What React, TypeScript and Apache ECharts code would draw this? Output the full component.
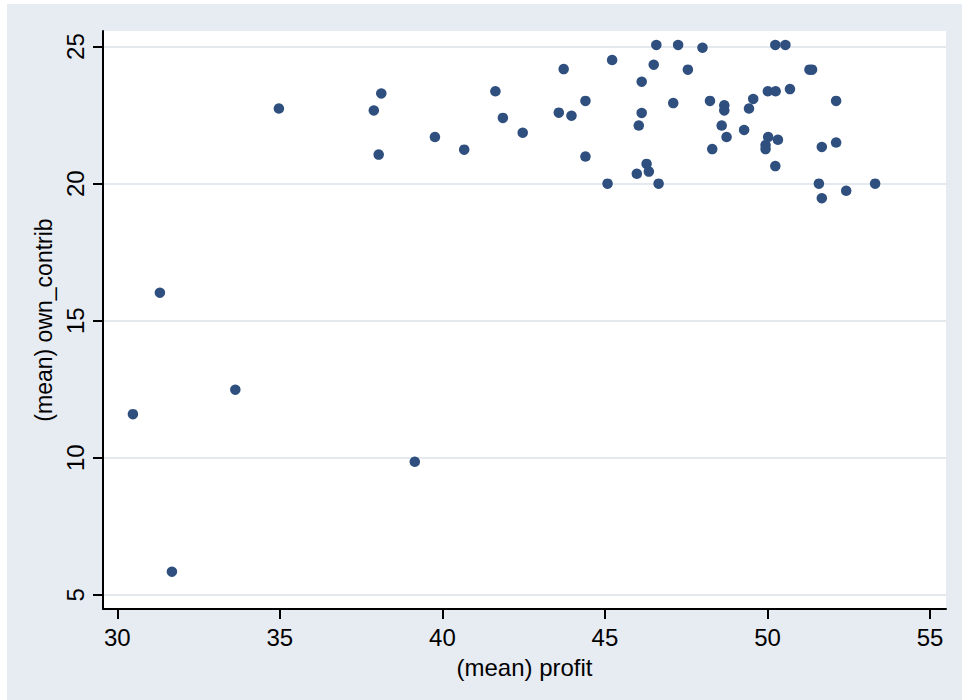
import React, { useEffect, useRef } from "react";
import * as echarts from "echarts";

const profit: number[] = [
  34.97, 38.12, 37.89, 38.04, 31.31, 30.48, 33.63, 31.68, 39.15,
  39.77, 40.67, 41.63, 41.86, 42.47, 43.58, 43.73,
  43.97, 44.40, 44.40, 45.22, 45.08, 46.58, 47.25, 48.0, 46.50, 47.55, 46.13, 47.10,
  46.13, 46.04, 48.23, 48.67, 48.67, 48.59, 48.74, 48.30, 46.28, 46.35, 45.98, 46.65,
  49.28, 49.43, 49.56, 50.01, 50.25, 50.69, 50.24, 50.55, 51.29, 51.37, 52.11,
  50.02, 50.32, 49.94, 49.94, 50.24, 51.67, 52.11, 51.58, 51.67, 52.42, 53.31,
];

const ownContrib: number[] = [
  22.74, 23.29, 22.67, 21.06, 16.02, 11.59, 12.48, 5.84, 9.85,
  21.70, 21.24, 23.37, 22.40, 21.86, 22.59, 24.18,
  22.48, 23.02, 20.99, 24.51, 20.0, 25.06, 25.06, 24.96, 24.34, 24.16, 23.72, 22.94,
  22.58, 22.12, 23.02, 22.86, 22.67, 22.12, 21.70, 21.26, 20.72, 20.44, 20.36, 20.0,
  21.96, 22.74, 23.09, 23.37, 23.37, 23.45, 25.06, 25.06, 24.16, 24.16, 23.02,
  21.70, 21.60, 21.41, 21.26, 20.64, 21.34, 21.50, 20.0, 19.47, 19.74, 20.0,
];

const xTicks: number[] = [30, 35, 40, 45, 50, 55];
const yTicks: number[] = [5, 10, 15, 20, 25];

const FONT = "'Liberation Sans', Arial, sans-serif";

export default function App() {
  const ref = useRef<HTMLDivElement>(null);

  useEffect(() => {
    if (!ref.current) return;
    const chart = echarts.init(ref.current, undefined, { renderer: "svg" });
    const points = profit.map((p, i) => [p, ownContrib[i]]);
    chart.setOption({
      animation: false,
      backgroundColor: "#e7ebf2",
      grid: {
        left: 96,
        top: 27,
        right: 16,
        bottom: 91,
        show: true,
        backgroundColor: "#ffffff",
        borderWidth: 0,
      },
      xAxis: {
        type: "value",
        min: 29.56,
        max: 55.49,
        name: "(mean) profit",
        nameLocation: "middle",
        nameGap: 46,
        nameTextStyle: { fontSize: 24, color: "#000", fontFamily: FONT },
        axisLine: { show: true, lineStyle: { color: "#000", width: 2 } },
        axisTick: {
          show: true,
          length: 10,
          lineStyle: { color: "#000", width: 2 },
          customValues: xTicks,
        },
        axisLabel: {
          fontSize: 24,
          color: "#000",
          fontFamily: FONT,
          margin: 16,
          customValues: xTicks,
        },
        splitLine: { show: false },
      },
      yAxis: {
        type: "value",
        min: 4.48,
        max: 25.57,
        name: "(mean) own_contrib",
        nameLocation: "middle",
        nameGap: 44,
        nameTextStyle: { fontSize: 23, color: "#000", fontFamily: FONT },
        axisLine: { show: true, lineStyle: { color: "#000", width: 2 } },
        axisTick: {
          show: true,
          length: 10,
          lineStyle: { color: "#000", width: 2 },
          customValues: yTicks,
        },
        axisLabel: {
          fontSize: 24,
          color: "#000",
          fontFamily: FONT,
          margin: 16,
          rotate: 90,
          customValues: yTicks,
        },
        splitLine: { show: true, lineStyle: { color: "#e4e8ef", width: 2 } },
      },
      series: [
        {
          type: "scatter",
          data: points,
          symbol: "circle",
          symbolSize: 10.5,
          itemStyle: { color: "#2f4f7f", opacity: 1 },
        },
      ],
    });
    return () => chart.dispose();
  }, []);

  return (
    <div
      style={{
        position: "absolute",
        left: 0,
        top: 0,
        width: 962,
        height: 700,
        background: "#ffffff",
      }}
    >
      <div
        ref={ref}
        style={{ position: "absolute", left: 7, top: 4, width: 955, height: 696 }}
      />
    </div>
  );
}
